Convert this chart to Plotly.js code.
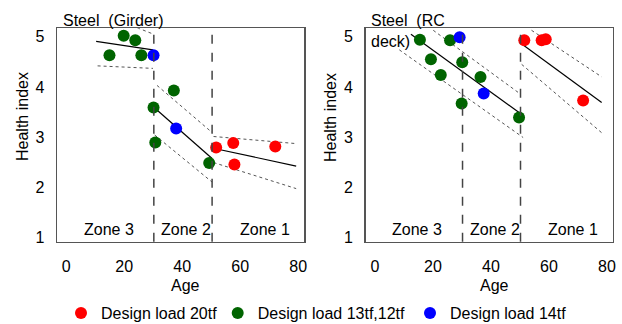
<!DOCTYPE html>
<html>
<head>
<meta charset="utf-8">
<script src="https://cdn.plot.ly/plotly-3.0.1.min.js"></script>
<style>html,body{margin:0;padding:0;background:#fff;}#chart{width:622px;height:324px;}</style>
</head>
<body>
<div id="chart"></div>
<script>
// ---------- data: Steel (Girder) ----------
const girderRedX   = [51.7, 57.6, 72.1, 58.0];
const girderRedY   = [2.79, 2.88, 2.81, 2.45];
const girderGreenX = [19.8, 23.8, 14.9, 25.9, 37.1, 30.1, 30.7, 49.3];
const girderGreenY = [5.02, 4.93, 4.63, 4.63, 3.93, 3.59, 2.89, 2.48];
const girderBlueX  = [30.1, 37.9];
const girderBlueY  = [4.63, 3.17];
// fitted segments [x0, x1], [y0, y1]
const girderFitX   = [[10.3, 29.9], [30.1, 50.3], [50.3, 79.3]];
const girderFitY   = [[4.91, 4.74], [3.60, 2.57], [2.78, 2.42]];
const girderUpX    = [[24.5, 30.2], [31.3, 50.3], [50.8, 79.0]];
const girderUpY    = [[5.18, 5.05], [4.03, 3.09], [3.01, 2.87]];
const girderLoX    = [[10.8, 29.9], [30.5, 50.3], [50.8, 79.3]];
const girderLoY    = [[4.42, 4.37], [3.04, 2.10], [2.49, 1.97]];

// ---------- data: Steel (RC deck) ----------
const deckRedX   = [51.5, 57.5, 58.9, 71.8];
const deckRedY   = [4.93, 4.93, 4.95, 3.73];
const deckGreenX = [15.5, 25.9, 19.3, 22.7, 30.1, 36.4, 29.9, 49.7];
const deckGreenY = [4.94, 4.93, 4.55, 4.24, 4.49, 4.20, 3.67, 3.39];
const deckBlueX  = [29.2, 37.5];
const deckBlueY  = [4.99, 3.87];
const deckFitX   = [[12.4, 49.7], [50.3, 78.2]];
const deckFitY   = [[5.05, 3.49], [4.87, 3.69]];
const deckUpX    = [[20.1, 49.4], [54.0, 78.2]];
const deckUpY    = [[5.13, 3.89], [5.13, 4.20]];
const deckLoX    = [[8.4, 51.1], [50.6, 78.5]];
const deckLoY    = [[4.74, 2.99], [4.45, 3.07]];

// zone boundaries and labels
const girderZoneBounds = [30.2, 50.3];
const deckZoneBounds   = [30.2, 50.2];
const zoneLabels = ['Zone 3', 'Zone 2', 'Zone 1'];
const zoneLabelX = [14.6, 41.4, 68.4];
const zoneLabelY = [1.16, 1.16, 1.15];

const xTicks = [0, 20, 40, 60, 80];
const yTicks = [1, 2, 3, 4, 5];
const seriesNames = ['Design load 20tf', 'Design load 13tf,12tf', 'Design load 14tf'];
const seriesColors = ['#ff0000', '#006400', '#0000ff'];

const FONT = 'Arial, "Liberation Sans", sans-serif';
const traces = [];

function segTraces(xs, ys, xa, ya, style) {
  xs.forEach((sx, i) => {
    traces.push({x: sx, y: ys[i], xaxis: xa, yaxis: ya, mode: 'lines',
      line: style, showlegend: false, hoverinfo: 'skip'});
  });
}
const solid  = {color: '#000000', width: 1.2};
const dotted = {color: '#555555', width: 1, dash: 'dot'};

segTraces(girderFitX, girderFitY, 'x', 'y', solid);
segTraces(girderUpX, girderUpY, 'x', 'y', dotted);
segTraces(girderLoX, girderLoY, 'x', 'y', dotted);
segTraces(deckFitX, deckFitY, 'x2', 'y2', solid);
segTraces(deckUpX, deckUpY, 'x2', 'y2', dotted);
segTraces(deckLoX, deckLoY, 'x2', 'y2', dotted);

const legendIds = ['legend', 'legend2', 'legend3'];
const girderSets = [[girderRedX, girderRedY], [girderGreenX, girderGreenY], [girderBlueX, girderBlueY]];
const deckSets   = [[deckRedX, deckRedY], [deckGreenX, deckGreenY], [deckBlueX, deckBlueY]];
girderSets.forEach((s, i) => {
  traces.push({x: s[0], y: s[1], xaxis: 'x', yaxis: 'y', mode: 'markers', name: seriesNames[i],
    legend: legendIds[i], marker: {color: seriesColors[i], size: 12}, showlegend: true});
});
deckSets.forEach((s, i) => {
  traces.push({x: s[0], y: s[1], xaxis: 'x2', yaxis: 'y2', mode: 'markers', name: seriesNames[i],
    legend: legendIds[i], marker: {color: seriesColors[i], size: 12}, showlegend: false});
});

const shapes = [];
girderZoneBounds.forEach(b => shapes.push({type: 'line', xref: 'x', yref: 'y domain', x0: b, x1: b, y0: 0, y1: 1,
  line: {color: '#444', width: 1.5, dash: 'dash'}}));
deckZoneBounds.forEach(b => shapes.push({type: 'line', xref: 'x2', yref: 'y2 domain', x0: b, x1: b, y0: 0, y1: 1,
  line: {color: '#444', width: 1.5, dash: 'dash'}}));

const W = 622, H = 324;
const px = v => v / W, py = v => 1 - v / H;

const annotations = [];
zoneLabels.forEach((t, i) => {
  annotations.push({text: t, x: zoneLabelX[i], y: zoneLabelY[i], xref: 'x', yref: 'y', showarrow: false,
    font: {size: 16, color: '#000', family: FONT}, xanchor: 'center', yanchor: 'middle'});
  annotations.push({text: t, x: zoneLabelX[i], y: zoneLabelY[i], xref: 'x2', yref: 'y2', showarrow: false,
    font: {size: 16, color: '#000', family: FONT}, xanchor: 'center', yanchor: 'middle'});
});
// panel titles
annotations.push({text: 'Steel\u00a0 (Girder)', x: px(61), y: py(21), xref: 'paper', yref: 'paper',
  showarrow: false, xanchor: 'left', yanchor: 'middle', font: {size: 16, color: '#000', family: FONT}});
annotations.push({text: 'Steel\u00a0 (RC<br>deck)', x: px(369), y: py(10), xref: 'paper', yref: 'paper',
  showarrow: false, xanchor: 'left', yanchor: 'top', align: 'left', font: {size: 16, color: '#000', family: FONT}});
// axis titles
annotations.push({text: 'Age', x: px(185.5), y: py(285), xref: 'paper', yref: 'paper', showarrow: false,
  xanchor: 'center', yanchor: 'middle', font: {size: 16, color: '#000', family: FONT}});
annotations.push({text: 'Age', x: px(494.5), y: py(285.5), xref: 'paper', yref: 'paper', showarrow: false,
  xanchor: 'center', yanchor: 'middle', font: {size: 16, color: '#000', family: FONT}});
annotations.push({text: 'Health index', x: px(22), y: py(117), xref: 'paper', yref: 'paper', showarrow: false,
  textangle: -90, xanchor: 'center', yanchor: 'middle', font: {size: 16, color: '#000', family: FONT}});
annotations.push({text: 'Health index', x: px(330), y: py(118), xref: 'paper', yref: 'paper', showarrow: false,
  textangle: -90, xanchor: 'center', yanchor: 'middle', font: {size: 16, color: '#000', family: FONT}});

function xAxis(domain, anchor) {
  return {domain: domain, anchor: anchor, range: [-3.2, 82], tickvals: xTicks, ticktext: xTicks.map(String),
    showgrid: false, zeroline: false, showline: true, mirror: true, linecolor: '#555', linewidth: 1.5,
    ticks: '', ticklabelstandoff: 10, tickfont: {size: 16, color: '#000', family: FONT}, fixedrange: true};
}
function yAxis(domain, anchor) {
  return {domain: domain, anchor: anchor, range: [0.91, 5.17], tickvals: yTicks, ticktext: yTicks.map(String),
    showgrid: false, zeroline: false, showline: true, mirror: true, linecolor: '#555', linewidth: 1.5,
    ticks: '', ticklabelstandoff: 8, tickfont: {size: 16, color: '#000', family: FONT}, fixedrange: true};
}
const yDom = [1 - 241.7 / H, 1 - 28.3 / H];

function legendAt(xpx) {
  return {orientation: 'h', x: px(xpx), xanchor: 'left', y: py(313), yanchor: 'middle',
    font: {size: 16, color: '#000', family: FONT}, bgcolor: 'rgba(0,0,0,0)', borderwidth: 0};
}

const layout = {
  width: W, height: H, margin: {l: 0, r: 0, t: 0, b: 0, autoexpand: false},
  paper_bgcolor: '#fff', plot_bgcolor: '#fff',
  font: {family: FONT, color: '#000'},
  xaxis: xAxis([57 / W, 304 / W], 'y'),
  yaxis: yAxis(yDom, 'x'),
  xaxis2: xAxis([365.7 / W, 612.7 / W], 'y2'),
  yaxis2: yAxis(yDom, 'x2'),
  shapes: shapes,
  annotations: annotations,
  legend: legendAt(61),
  legend2: legendAt(217.7),
  legend3: legendAt(410),
};

Plotly.newPlot('chart', traces, layout, {displayModeBar: false, staticPlot: true});
</script>
</body>
</html>
